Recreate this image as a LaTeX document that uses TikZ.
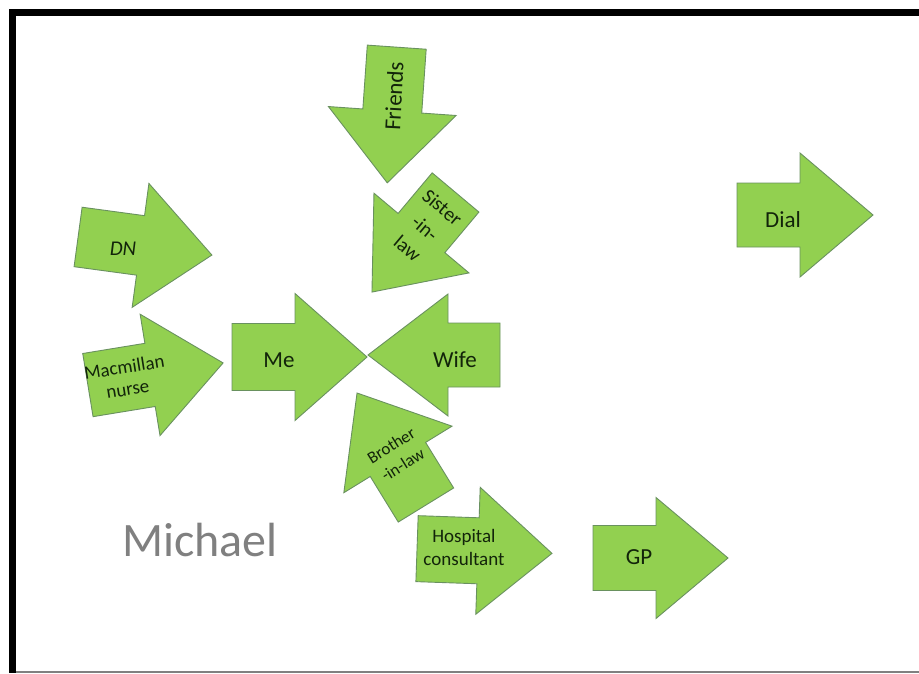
\documentclass[tikz,border=0pt]{standalone}
\usepackage{fontspec}
\setmainfont{Carlito}
\definecolor{arrowgreen}{RGB}{146,208,80}
\definecolor{arrowedge}{RGB}{105,145,95}
\definecolor{txtgreen}{RGB}{18,36,10}
\definecolor{namegray}{RGB}{128,128,128}
\tikzset{
  arrowshape/.style={fill=arrowgreen, draw=arrowedge, line width=0.9pt, line join=miter},
  lbl/.style={text=txtgreen, align=center, inner sep=0pt},
}
% #1 cx, #2 cy, #3 angle, #4 length, #5 head width, #6 shaft width, #7 head length
\newcommand{\garrow}[7]{%
  \begin{scope}[shift={(#1,#2)},rotate=#3]
    \draw[arrowshape] (-#4/2,-#6/2) -- (#4/2-#7,-#6/2) -- (#4/2-#7,-#5/2) -- (#4/2,0)
      -- (#4/2-#7,#5/2) -- (#4/2-#7,#6/2) -- (-#4/2,#6/2) -- cycle;
  \end{scope}}
\begin{document}
\begin{tikzpicture}[x=1pt,y=-1pt]
\useasboundingbox (0,0) rectangle (919,673);
\fill[white] (0,0) rectangle (919,673);
% frame
\fill[black] (9,9) rectangle (16,673);
\fill[black] (9,9) rectangle (919,16);
\draw[gray, line width=1.2pt] (16,672) -- (919,672);

% arrows
\garrow{392}{115}{-94}{136}{128}{59}{72}        % Friends
\garrow{413.75}{242.25}{-130}{130}{124}{61}{77} % Sister-in-law
\garrow{145}{246}{-7.7}{135}{125}{60}{72}       % DN
\garrow{155.5}{374}{9.3}{137}{123}{64}{74}      % Macmillan nurse
\garrow{299.5}{357}{0}{135}{127}{67}{72}        % Me
\garrow{434}{355}{180}{132}{122}{64}{80}        % Wife
\garrow{391.5}{449}{121.6}{131.5}{127}{65}{78}  % Brother-in-law
\garrow{484.5}{551}{-2}{135}{127}{66}{74}       % Hospital consultant
\garrow{660.5}{558}{0}{135}{121}{65}{72}        % GP
\garrow{805}{215}{0}{136}{124}{64}{73}          % Dial

% labels
\node[lbl, rotate=87, font=\fontsize{23}{26}\selectfont] (friends) at (394,96) {Friends};
\node[lbl, rotate=-40, font=\fontsize{20}{27}\selectfont] (sister) at (425,228) {Sister\\-in-\\law};
\node[lbl, font=\itshape\fontsize{21}{24}\selectfont] (dn) at (123,249) {DN};
\node[lbl, rotate=9, font=\fontsize{19}{22}\selectfont] (macmillan) at (126,378) {Macmillan\\nurse};
\node[lbl, font=\fontsize{23}{26}\selectfont] (me) at (279,360) {Me};
\node[lbl, font=\fontsize{23}{26}\selectfont] (wife) at (455,360) {Wife};
\node[lbl, rotate=32, font=\fontsize{17}{22}\selectfont] (brother) at (397,455) {Brother\\-in-law};
\node[lbl, font=\fontsize{19}{23}\selectfont] (hospital) at (464,547) {Hospital\\consultant};
\node[lbl, font=\fontsize{23}{26}\selectfont] (gp) at (639,557) {GP};
\node[lbl, font=\fontsize{23}{26}\selectfont] (dial) at (783,220) {Dial};
\node[text=namegray, inner sep=0pt, font=\fontsize{48}{52}\selectfont] (michael) at (200,540) {Michael};
\end{tikzpicture}
\end{document}
